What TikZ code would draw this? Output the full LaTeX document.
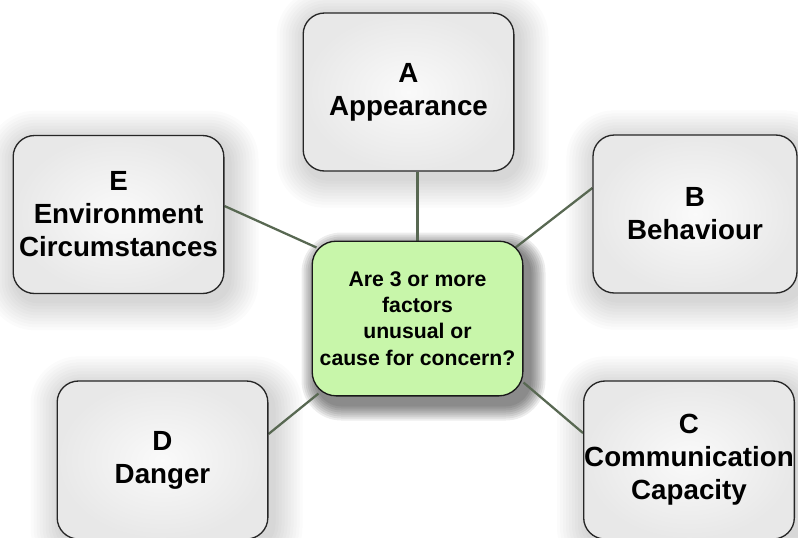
\documentclass[tikz,border=0pt]{standalone}
\usepackage{fontspec}
\setmainfont{Liberation Sans}
\usetikzlibrary{calc,backgrounds}
\definecolor{qgreen}{RGB}{200,246,170}
\definecolor{linkgreen}{RGB}{88,104,82}
\tikzset{
    factor/.style={draw=black!85,line width=1pt,rounded corners=16pt,
        inner color=black!2,outer color=black!9,
        minimum width=158pt,minimum height=118.5pt,inner sep=0pt,align=center,
        font=\fontsize{20.8}{24.75}\selectfont\bfseries},
    question/.style={draw=black!90,line width=1pt,rounded corners=18pt,fill=qgreen,
        minimum width=158pt,minimum height=116pt,inner sep=0pt,align=center,
        font=\fontsize{15.9}{19.7}\selectfont\bfseries},
    link/.style={draw=linkgreen,line width=1.7pt},
}

\begin{document}
\begin{tikzpicture}[x=0.75pt,y=-0.75pt]
\useasboundingbox (0,0) rectangle (798,537);
\node[factor] (A) at (408.5,92) {A\\Appearance};
\node[factor,minimum width=153pt] (B) at (695,214) {B\\Behaviour};
\node[factor] (C) at (689,460) {C\\Communication\\Capacity};
\node[factor] (D) at (162.5,460) {D\\Danger};
\node[factor] (E) at (118.5,214.5) {E\\Environment\\Circumstances};
\node[question] (Q) at (417.5,318.5) {Are 3 or more\\factors\\unusual or\\cause for concern?};
\begin{scope}[on background layer]
\fill[white] (0,0) rectangle (798,537);
\foreach \n in {A,B,C,D,E}
    \foreach \k in {1,...,10}
        \fill[black,opacity=0.016,rounded corners=16pt+\k*2pt]
            ($(\n.north west)+(4-3*\k,6-3*\k)$) rectangle ($(\n.south east)+(4+3*\k,6+3*\k)$);
\foreach \k in {1,...,8}
    \fill[black,opacity=0.07,rounded corners=18pt+\k*1.5pt]
        ($(Q.north west)+(6-2*\k,8-2*\k)$) rectangle ($(Q.south east)+(6+2*\k,8+2*\k)$);
\draw[link] (A.south -| Q.north) -- (Q.north);
\draw[link] ($(B.west)+(0,-26)$) -- ($(Q.north east)+(-8,7)$);
\draw[link] ($(E.east)+(0,-8.5)$) -- ($(Q.north west)+(5,7)$);
\draw[link] ($(D.east)+(0,-26)$) -- ($(Q.south west)+(7,-3)$);
\draw[link] ($(C.west)+(0,-27)$) -- ($(Q.south east)+(0,-14)$);
\end{scope}
\end{tikzpicture}
\end{document}
